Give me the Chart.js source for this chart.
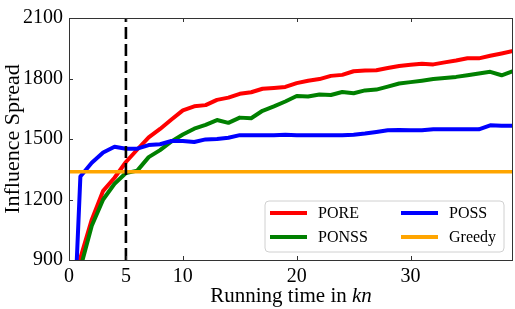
<!DOCTYPE html>
<html><head><meta charset="utf-8">
<script src="https://cdn.jsdelivr.net/npm/chart.js@4.4.0/dist/chart.umd.min.js"></script>
<style>html,body{margin:0;padding:0;background:#fff;}#wrap{width:515px;height:309px;position:relative;}</style>
</head><body><div id="wrap"><canvas id="c" width="515" height="309"></canvas></div>
<script>
// ---- data ----
const xValues = [0,1,2,3,4,5,6,7,8,9,10,11,12,13,14,15,16,17,18,19,20,21,22,23,24,25,26,27,28,29,30,31,32,33,34,35,36,37,38,39];
const poreValues = [0,910,1100,1243,1308,1386,1448,1508,1550,1597,1642,1662,1668,1694,1705,1724,1732,1749,1753,1758,1777,1789,1797,1813,1818,1836,1840,1841,1852,1862,1868,1873,1870,1880,1889,1900,1900,1913,1924,1936];
const ponssValues = [0,860,1070,1200,1278,1331,1343,1410,1445,1488,1522,1551,1570,1594,1580,1606,1603,1640,1662,1686,1713,1711,1721,1718,1733,1727,1741,1745,1760,1775,1782,1789,1797,1802,1808,1816,1825,1833,1816,1836];
const possValues = [0,1314,1382,1433,1462,1452,1452,1470,1474,1490,1490,1485,1498,1500,1506,1519,1519,1519,1519,1521,1519,1519,1519,1519,1519,1521,1527,1535,1543,1545,1543,1543,1548,1548,1548,1548,1548,1568,1566,1566];
const greedyX = [0, 39];
const greedyValues = [1338, 1338];
const markerX = [5, 5];
const markerY = [900, 2100];
const xTickValues = [0, 5, 10, 20, 30];
const yTickValues = [900, 1200, 1500, 1800, 2100];
const seriesNames = ['PORE', 'PONSS', 'POSS', 'Greedy'];
const xTitleMain = 'Running time in ';
const xTitleItalic = 'kn';

const pts = (xs, ys) => xs.map((x, i) => ({x: x, y: ys[i]}));
const FONT = '"Liberation Serif", "Times New Roman", serif';

const framePlugin = {
  id: 'frame',
  afterDatasetsDraw(chart) {
    const {ctx, chartArea: a, scales: {x, y}} = chart;
    ctx.save();
    ctx.strokeStyle = '#333';
    ctx.lineWidth = 1;
    ctx.beginPath();
    xTickValues.forEach(v => {
      const px = Math.round(x.getPixelForValue(v)) + 0.5;
      ctx.moveTo(px, a.bottom); ctx.lineTo(px, a.bottom - 4);
      ctx.moveTo(px, a.top); ctx.lineTo(px, a.top + 4);
    });
    yTickValues.forEach(v => {
      const py = Math.round(y.getPixelForValue(v)) + 0.5;
      ctx.moveTo(a.left, py); ctx.lineTo(a.left + 4, py);
    });
    ctx.stroke();
    ctx.strokeRect(Math.round(a.left) + 0.5, Math.round(a.top) + 0.5, Math.round(a.right - a.left) - 1, Math.round(a.bottom - a.top));
    // x axis title with italic part
    ctx.fillStyle = '#000';
    ctx.textBaseline = 'middle';
    ctx.textAlign = 'left';
    const fN = '21px ' + FONT, fI = 'italic 21px ' + FONT;
    ctx.font = fN; const w1 = ctx.measureText(xTitleMain).width;
    ctx.font = fI; const w2 = ctx.measureText(xTitleItalic).width;
    const cx0 = (a.left + a.right) / 2 - (w1 + w2) / 2;
    ctx.font = fN; ctx.fillText(xTitleMain, cx0, 296);
    ctx.font = fI; ctx.fillText(xTitleItalic, cx0 + w1, 296);
    // legend
    const bx = 265, by = 201, bw = 239, bh = 51, r = 4;
    ctx.fillStyle = 'rgba(255,255,255,0.85)';
    ctx.strokeStyle = '#d0d0d0';
    ctx.beginPath();
    ctx.moveTo(bx + r, by); ctx.lineTo(bx + bw - r, by); ctx.quadraticCurveTo(bx + bw, by, bx + bw, by + r);
    ctx.lineTo(bx + bw, by + bh - r); ctx.quadraticCurveTo(bx + bw, by + bh, bx + bw - r, by + bh);
    ctx.lineTo(bx + r, by + bh); ctx.quadraticCurveTo(bx, by + bh, bx, by + bh - r);
    ctx.lineTo(bx, by + r); ctx.quadraticCurveTo(bx, by, bx + r, by);
    ctx.closePath(); ctx.fill(); ctx.stroke();
    const cols = [270, 401], rows = [213, 237];
    ctx.font = '16px ' + FONT;
    chart.data.datasets.slice(0, 4).forEach((ds, i) => {
      const cx = cols[Math.floor(i / 2)], cy = rows[i % 2];
      ctx.strokeStyle = ds.borderColor; ctx.lineWidth = 4;
      ctx.beginPath(); ctx.moveTo(cx, cy); ctx.lineTo(cx + 37, cy); ctx.stroke();
      ctx.fillStyle = '#000';
      ctx.fillText(ds.label, cx + 48, cy + 1);
    });
    ctx.restore();
  }
};

new Chart(document.getElementById('c'), {
  type: 'line',
  data: {
    datasets: [
      {label: seriesNames[0], data: pts(xValues, poreValues), borderColor: '#ff0000', borderWidth: 4, order: 5},
      {label: seriesNames[1], data: pts(xValues, ponssValues), borderColor: '#008000', borderWidth: 4, order: 4},
      {label: seriesNames[2], data: pts(xValues, possValues), borderColor: '#0000ff', borderWidth: 4, order: 3},
      {label: seriesNames[3], data: pts(greedyX, greedyValues), borderColor: '#ffa500', borderWidth: 3.5, order: 2},
      {label: 'marker', data: pts(markerX, markerY), borderColor: '#000', borderWidth: 2.6, borderDash: [12, 5], order: 1}
    ]
  },
  options: {
    responsive: false,
    animation: false,
    devicePixelRatio: 1,
    layout: {padding: {top: 8, right: 2, left: 0, bottom: 0}},
    elements: {point: {radius: 0}, line: {tension: 0, fill: false, borderCapStyle: 'butt', borderJoinStyle: 'round'}},
    plugins: {legend: {display: false}, tooltip: {enabled: false}},
    scales: {
      x: {
        type: 'linear', min: 0, max: 39,
        afterBuildTicks: s => { s.ticks = xTickValues.map(v => ({value: v})); },
        afterFit: s => { s.height = 49; },
        grid: {display: false, drawTicks: false},
        border: {display: false},
        ticks: {font: {family: FONT, size: 20}, color: '#000', padding: 5, maxRotation: 0, autoSkip: false, callback: v => String(v)},
        title: {display: false}
      },
      y: {
        min: 900, max: 2100,
        afterBuildTicks: s => { s.ticks = yTickValues.map(v => ({value: v})); },
        afterFit: s => { s.width = 69; },
        grid: {display: false, drawTicks: false},
        border: {display: false},
        ticks: {font: {family: FONT, size: 20}, color: '#000', padding: 6, callback: v => String(v)},
        title: {display: true, text: 'Influence Spread', font: {family: FONT, size: 22}, color: '#000', padding: {top: 0, bottom: 0}}
      }
    }
  },
  plugins: [framePlugin]
});
</script>
</body></html>
